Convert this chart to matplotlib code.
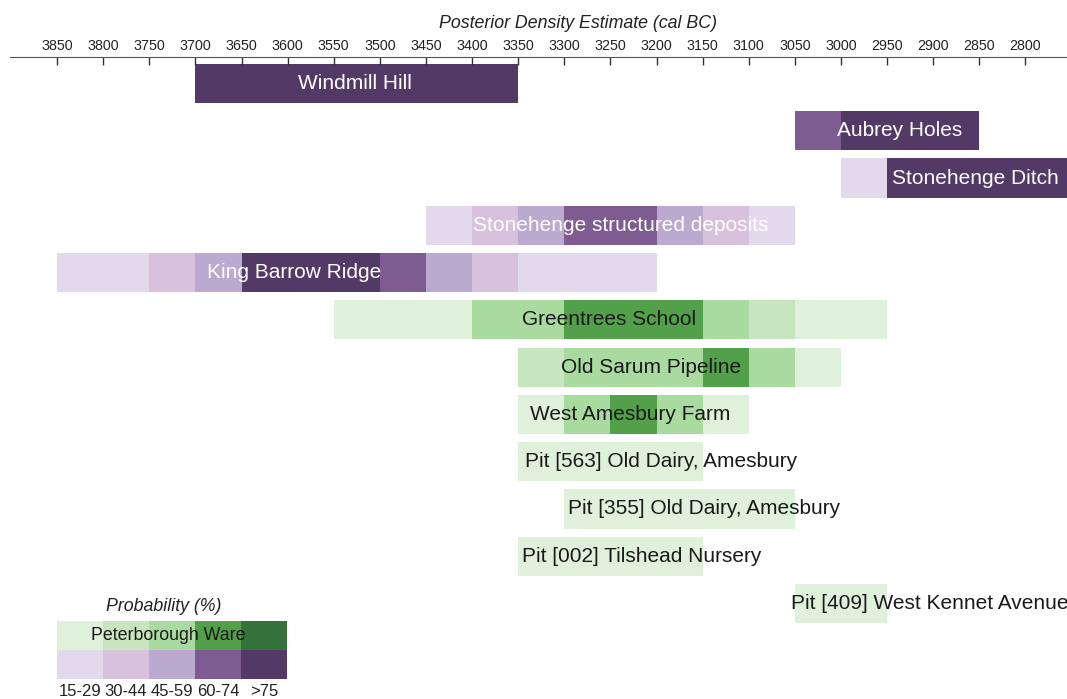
import matplotlib.pyplot as plt

# sites from top to bottom
sites = ["Windmill Hill", "Aubrey Holes", "Stonehenge Ditch",
         "Stonehenge structured deposits", "King Barrow Ridge", "Greentrees School",
         "Old Sarum Pipeline", "West Amesbury Farm", "Pit [563] Old Dairy, Amesbury",
         "Pit [355] Old Dairy, Amesbury", "Pit [002] Tilshead Nursery",
         "Pit [409] West Kennet Avenue"]
ware = ["other", "other", "other", "other", "other", "peterborough",
        "peterborough", "peterborough", "peterborough", "peterborough",
        "peterborough", "peterborough"]
# first (oldest) 50-year bin of each site, cal BC
first_bin = [3700, 3050, 3000, 3450, 3850, 3550, 3350, 3350, 3350, 3300, 3350, 3050]
# probability class per 50-year bin: 0=15-29, 1=30-44, 2=45-59, 3=60-74, 4=>75
prob_class = [
    [4, 4, 4, 4, 4, 4, 4],
    [3, 4, 4, 4],
    [0, 4, 4, 4, 4, 4],
    [0, 1, 2, 3, 3, 2, 1, 0],
    [0, 0, 1, 2, 4, 4, 4, 3, 2, 1, 0, 0, 0],
    [0, 0, 0, 2, 2, 3, 3, 3, 2, 1, 0, 0],
    [1, 2, 2, 2, 3, 2, 0],
    [0, 2, 3, 2, 0],
    [0, 0, 0, 0],
    [0, 0, 0, 0, 0],
    [0, 0, 0, 0],
    [0, 0],
]
label_year = [3527, 2936, 2854, 3239, 3593, 3251, 3206, 3229, 3195, 3148, 3216, 2904]
class_names = ["15-29", "30-44", "45-59", "60-74", ">75"]

purples = ["#e3d9ec", "#d8c1dd", "#bca9d0", "#7e5b91", "#533a66"]
greens = ["#e0f1db", "#c7e6bf", "#a9dba1", "#53a04b", "#35723b"]

fig = plt.figure(figsize=(10.67, 6.99), dpi=100)
plt.rcParams['font.family'] = ['Liberation Sans', 'DejaVu Sans']

ax = fig.add_axes([10 / 1067, 0, 1057 / 1067, 1 - 57 / 699])

for i in range(len(sites)):
    cols = purples if ware[i] == "other" else greens
    for k, c in enumerate(prob_class[i]):
        start = first_bin[i] - 50 * k
        ax.barh(i, 50, left=start - 50, height=0.83, color=cols[c], linewidth=0)
    tcol = "white" if ware[i] == "other" else "#1a1a1a"
    ax.text(label_year[i], i, sites[i], ha="center", va="center",
            fontsize=15, color=tcol)

ax.set_xlim(3901, 2755)
ax.set_ylim(13.02, -0.56)
ax.xaxis.tick_top()
ax.xaxis.set_label_position("top")
ax.set_xticks(range(3850, 2799, -50))
ax.tick_params(axis="x", direction="in", length=6, width=1, pad=3,
               labelsize=10.3, color="#333333", labelcolor="#222222")
ax.set_yticks([])
for s in ["left", "right", "bottom"]:
    ax.spines[s].set_visible(False)
ax.spines["top"].set_color("#555555")
ax.set_xlabel("Posterior Density Estimate (cal BC)", fontsize=12.8,
              style="italic", labelpad=4, color="#222222")
ax.xaxis.set_label_coords(0.537, 1.045)

# legend
lax = fig.add_axes([57 / 1067, 1 - 679 / 699, 230 / 1067, 58 / 699])
for j in range(5):
    lax.bar(j, 1, bottom=1, width=1, color=greens[j], linewidth=0)
    lax.bar(j, 1, bottom=0, width=1, color=purples[j], linewidth=0)
    lax.text(j, -0.17, class_names[j], ha="center", va="top", fontsize=12,
             color="#222222")
lax.text(1.91, 1.5, "Peterborough Ware", ha="center", va="center", fontsize=12.8,
         color="#1a1a1a")
lax.text(1.83, 2.2, "Probability (%)", ha="center", va="bottom", fontsize=12.8,
         style="italic", color="#222222")
lax.set_xlim(-0.5, 4.5)
lax.set_ylim(0, 2)
lax.axis("off")

fig.savefig("out.png", dpi=100)
